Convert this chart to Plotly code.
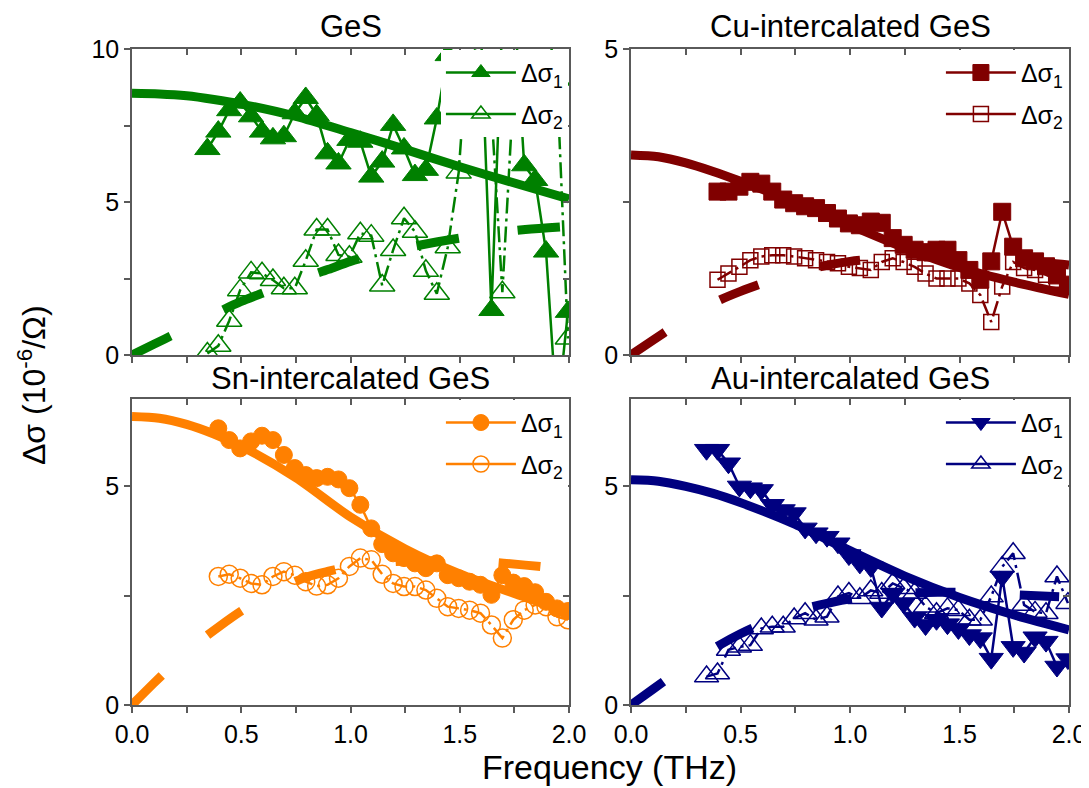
import plotly.graph_objects as go

# ---------------- data ----------------
FREQ = [0.345, 0.395, 0.445, 0.495, 0.545, 0.595, 0.645, 0.695, 0.745, 0.795,
        0.845, 0.895, 0.945, 0.995, 1.045, 1.095, 1.145, 1.195, 1.245, 1.295,
        1.345, 1.395, 1.445, 1.495, 1.545, 1.595, 1.645, 1.695, 1.745, 1.795,
        1.845, 1.895, 1.945, 1.995]

GES_S1 = [6.73, 7.3, 8.0, 8.25, 7.8, 7.3, 7.08, 7.15, 7.9, 8.4, 7.84, 6.59, 6.26,
          7.03, 6.97, 5.83, 6.32, 7.52, 6.75, 5.88, 6.05, 7.73, 9.8, 12, 13, 11,
          1.47, 11, 12, 6.2, 5.72, 3.38, -2, 1.41]
GES_S2 = [0.05, 0.3, 1.12, 2.12, 2.7, 2.67, 2.45, 2.18, 2.18, 3.08, 4.1, 4.1, 3.27,
          3.21, 3.98, 3.9, 2.27, 3.43, 4.47, 4.03, 2.75, 2.0, 3.52, 5.96, 11, 9, 8,
          2.05, 8.5, 11, 12, 11, 9, 0.54]

CU_S1 = [None, 2.67, 2.67, 2.75, 2.83, 2.80, 2.67, 2.54, 2.48, 2.43, 2.40, 2.32,
         2.23, 2.15, 2.12, 2.18, 2.16, 1.91, 1.80, 1.72, 1.68, 1.72, 1.72, 1.55,
         1.39, 1.23, 1.53, 2.34, 1.77, 1.58, 1.53, 1.45, 1.3, 1.15]
CU_S2 = [None, 1.23, 1.33, 1.44, 1.55, 1.61, 1.63, 1.63, 1.61, 1.58, 1.55, 1.52,
         1.50, 1.44, 1.42, 1.39, 1.52, 1.58, 1.52, 1.44, 1.33, 1.25, 1.25, 1.25,
         1.17, 0.98, 0.54, 1.12, 1.52, 1.42, 1.39, 1.31, 1.23, 1.12]

SN_S1 = [None, 6.33, 6.06, 5.87, 6.03, 6.16, 6.06, 5.72, 5.42, 5.26, 5.19, 5.22,
         5.16, 4.96, 4.58, 4.04, 3.68, 3.47, 3.36, 3.24, 3.13, 3.24, 2.97, 2.9,
         2.82, 2.75, 2.52, 2.97, 2.8, 2.72, 2.58, 2.36, 2.21, 2.15]
SN_S2 = [None, 2.94, 2.99, 2.9, 2.78, 2.75, 2.94, 3.05, 2.97, 2.82, 2.72, 2.75,
         2.90, 3.17, 3.36, 3.32, 2.99, 2.78, 2.71, 2.71, 2.63, 2.44, 2.25, 2.21,
         2.17, 2.1, 1.83, 1.53, 1.95, 2.17, 2.29, 2.25, 2.02, 1.95]

AU_S1 = [5.84, 5.84, 5.53, 5.0, 4.96, 4.92, 4.58, 4.46, 4.39, 4.04, 3.93, 3.85,
         3.7, 3.43, 3.24, 3.16, 2.23, 2.55, 2.33, 2.0, 1.83, 1.95, 1.85, 1.74, 1.6,
         1.53, 1.06, 2.94, 1.33, 1.2, 1.55, 1.45, 0.88, 1.05]
AU_S2 = [0.65, 0.72, 1.26, 1.33, 1.37, 1.75, 1.79, 1.79, 1.98, 2.1, 1.95, 2.02,
         2.48, 2.56, 2.44, 2.62, 2.56, 2.78, 2.67, 2.56, 2.25, 2.1, 2.21, 2.17,
         1.95, 1.95, 2.48, 3.16, 3.47, 2.29, 2.13, 2.1, 2.94, 2.33]

# model curves
FIT1_X = [0, 0.125, 0.25, 0.375, 0.5, 0.75, 1.0, 1.25, 1.5, 1.75, 2.0]
GES_FIT1 = [8.55, 8.53, 8.47, 8.35, 8.2, 7.8, 7.27, 6.72, 6.15, 5.62, 5.1]
CU_FIT1 = [3.27, 3.24, 3.14, 3.0, 2.84, 2.5, 2.12, 1.75, 1.43, 1.19, 0.99]
SN_FIT1 = [6.6, 6.56, 6.42, 6.2, 5.92, 5.2, 4.3, 3.57, 3.0, 2.55, 2.13]
AU_FIT1 = [5.15, 5.12, 5.0, 4.84, 4.63, 4.13, 3.53, 2.95, 2.46, 2.06, 1.72]

FIT2_X = [0, 0.1, 0.2, 0.3, 0.4, 0.5, 0.6, 0.7, 0.8, 0.9, 1.0, 1.2, 1.4, 1.6, 1.8, 2.0]
GES_FIT2 = [0, 0.35, 0.7, 1.05, 1.42, 1.75, 2.03, 2.3, 2.56, 2.8, 3.06, 3.42, 3.7, 3.93, 4.1, 4.2]
CU_FIT2 = [0, 0.24, 0.48, 0.70, 0.89, 1.04, 1.17, 1.29, 1.39, 1.47, 1.53, 1.59, 1.6, 1.58, 1.54, 1.47]
SN_FIT2 = [0, 0.5, 0.98, 1.42, 1.8, 2.15, 2.45, 2.72, 2.93, 3.06, 3.17, 3.28, 3.3, 3.28, 3.2, 3.1]
AU_FIT2 = [0, 0.36, 0.72, 1.05, 1.36, 1.63, 1.86, 2.05, 2.21, 2.33, 2.43, 2.54, 2.58, 2.56, 2.51, 2.47]

TITLES = ["GeS", "Cu-intercalated GeS", "Sn-intercalated GeS", "Au-intercalated GeS"]
X_TICKS = [0.0, 0.5, 1.0, 1.5, 2.0]

# ---------------- styling ----------------
# the page body has an 8px margin; the figure is sized/offset to compensate
OFF = 8
W, H = 1089 - OFF, 788 - OFF
FONT = "Liberation Sans, Arial, sans-serif"
AXC = "#5a5a5a"

def px_x(p):
    return (p - OFF) / W

def px_y(p):
    return 1 - (p - OFF) / H

XD_L = [px_x(132), px_x(569)]
XD_R = [px_x(631), px_x(1069)]
YD_T = [px_y(355), px_y(49)]
YD_B = [px_y(705), px_y(399)]

panels = [
    dict(s1=GES_S1, s2=GES_S2, f1=GES_FIT1, f2=GES_FIT2, color="#008000",
         sym1="triangle-up", sym2="triangle-up-open", ms1=22, ms2=22,
         xd=XD_L, yd=YD_T, yr=[0, 10], ydt=5, dash="43px,59px", xlab=False),
    dict(s1=CU_S1, s2=CU_S2, f1=CU_FIT1, f2=CU_FIT2, color="#800000",
         sym1="square", sym2="square-open", ms1=17, ms2=15,
         xd=XD_R, yd=YD_T, yr=[0, 5], ydt=5, dash="41px,64px", xlab=False),
    dict(s1=SN_S1, s2=SN_S2, f1=SN_FIT1, f2=SN_FIT2, color="#FF8000",
         sym1="circle", sym2="circle-open", ms1=17, ms2=18,
         xd=XD_L, yd=YD_B, yr=[0, 7], ydt=5, dash="42px,61px", xlab=True),
    dict(s1=AU_S1, s2=AU_S2, f1=AU_FIT1, f2=AU_FIT2, color="#000080",
         sym1="triangle-down", sym2="triangle-up-open", ms1=21, ms2=21,
         xd=XD_R, yd=YD_B, yr=[0, 7], ydt=5, dash="40px,64px", xlab=True),
]

fig = go.Figure()
layout = dict(
    template="none",
    width=W, height=H, margin=dict(l=0, r=0, t=0, b=0, autoexpand=False),
    paper_bgcolor="white", plot_bgcolor="white",
    font=dict(family=FONT, size=24, color="black"),
    showlegend=True, annotations=[],
)

for i, p in enumerate(panels):
    n = i + 1
    sfx = "" if n == 1 else str(n)
    xa, ya = "x" + sfx, "y" + sfx
    leg = "legend" + sfx
    c = p["color"]
    # data sigma1
    fig.add_trace(go.Scatter(
        x=FREQ, y=p["s1"], xaxis=xa, yaxis=ya, legend=leg, legendgroup="a%d" % n,
        mode="lines+markers", name="Δσ<sub>1</sub>",
        line=dict(color=c, width=2.5),
        marker=dict(symbol=p["sym1"], size=p["ms1"], color=c,
                    line=dict(color=c, width=1)),
    ))
    # data sigma2 (dash-dot connecting line)
    fig.add_trace(go.Scatter(
        x=FREQ, y=p["s2"], xaxis=xa, yaxis=ya, showlegend=False, legendgroup="b%d" % n,
        mode="lines+markers", name="Δσ<sub>2</sub>",
        line=dict(color=c, width=2.5, dash="16px,5px,3px,5px"),
        marker=dict(symbol=p["sym2"], size=p["ms2"], color=c,
                    line=dict(color=c, width=1.5)),
    ))
    # legend entry for sigma2 (solid symbol line as in the original legend)
    fig.add_trace(go.Scatter(
        x=[None], y=[None], xaxis=xa, yaxis=ya, legend=leg, legendgroup="b%d" % n,
        mode="lines+markers", name="Δσ<sub>2</sub>", hoverinfo="skip",
        line=dict(color=c, width=2.5),
        marker=dict(symbol=p["sym2"], size=p["ms2"], color=c,
                    line=dict(color=c, width=1.5)),
    ))
    # fits
    fig.add_trace(go.Scatter(
        x=FIT1_X, y=p["f1"], xaxis=xa, yaxis=ya, mode="lines", showlegend=False,
        line=dict(color=c, width=9, shape="spline", smoothing=0.8), hoverinfo="skip",
    ))
    fig.add_trace(go.Scatter(
        x=FIT2_X, y=p["f2"], xaxis=xa, yaxis=ya, mode="lines", showlegend=False,
        line=dict(color=c, width=9, shape="spline", smoothing=0.8, dash=p["dash"]),
        hoverinfo="skip",
    ))

    common = dict(showgrid=False, zeroline=False, color=AXC, automargin=False,
                  tickfont=dict(family=FONT, size=25, color="black"))
    layout["xaxis" + sfx] = dict(
        domain=p["xd"], anchor=ya, range=[0, 2], tickvals=X_TICKS,
        tickformat=".1f", showticklabels=p["xlab"],
        showline=True, linecolor=AXC, linewidth=1.5, mirror=True,
        ticks="outside", ticklen=6, tickwidth=1.5, tickcolor=AXC,
        minor=dict(dtick=0.25, ticks="outside", ticklen=6, tickwidth=1.5, tickcolor=AXC),
        **common)
    layout["yaxis" + sfx] = dict(
        domain=p["yd"], anchor=xa, range=p["yr"], dtick=p["ydt"],
        showline=True, linecolor=AXC, linewidth=1.5, mirror=True,
        ticks="outside", ticklen=6, tickwidth=1.5, tickcolor=AXC,
        minor=dict(dtick=2.5, ticks="outside", ticklen=6, tickwidth=1.5, tickcolor=AXC),
        **common)
    # mirrored ticks (top / right) pointing inward
    ox, oy = "x" + str(n + 4), "y" + str(n + 4)
    layout["xaxis" + str(n + 4)] = dict(
        overlaying=xa, anchor=ya, side="top", range=[0, 2], tickvals=X_TICKS,
        showticklabels=False, showline=False, ticks="inside", ticklen=6,
        tickwidth=1.5, tickcolor=AXC, automargin=False,
        minor=dict(dtick=0.25, ticks="inside", ticklen=6, tickwidth=1.5, tickcolor=AXC),
        showgrid=False, zeroline=False)
    layout["yaxis" + str(n + 4)] = dict(
        overlaying=ya, anchor=xa, side="right", range=p["yr"], dtick=p["ydt"],
        showticklabels=False, showline=False, ticks="inside", ticklen=6,
        tickwidth=1.5, tickcolor=AXC, automargin=False,
        minor=dict(dtick=2.5, ticks="inside", ticklen=6, tickwidth=1.5, tickcolor=AXC),
        showgrid=False, zeroline=False)
    fig.add_trace(go.Scatter(x=[None], y=[None], xaxis=ox, yaxis=oy,
                             showlegend=False, hoverinfo="skip"))

    layout[leg] = dict(
        x=p["xd"][1] - 0.001, y=p["yd"][1] - 0.001, xanchor="right", yanchor="top",
        bgcolor="white", borderwidth=0, font=dict(family=FONT, size=25, color="black"),
        itemwidth=70, tracegroupgap=6)

    layout["annotations"].append(dict(
        text=TITLES[i], x=(p["xd"][0] + p["xd"][1]) / 2, xref="paper",
        y=px_y(26 if i < 2 else 378), yref="paper", showarrow=False,
        xanchor="center", yanchor="middle",
        font=dict(family=FONT, size=31, color="black")))

layout["annotations"].append(dict(
    text="Frequency (THz)", x=px_x(609), y=px_y(767), xref="paper", yref="paper",
    showarrow=False, xanchor="center", yanchor="middle",
    font=dict(family=FONT, size=34, color="black")))
layout["annotations"].append(dict(
    text="Δσ (10<sup>-6</sup>/Ω)", x=px_x(32), y=px_y(385), xref="paper", yref="paper",
    showarrow=False, xanchor="center", yanchor="middle", textangle=-90,
    font=dict(family=FONT, size=32, color="black")))

fig.update_layout(**layout)
fig.write_html("out.html")
